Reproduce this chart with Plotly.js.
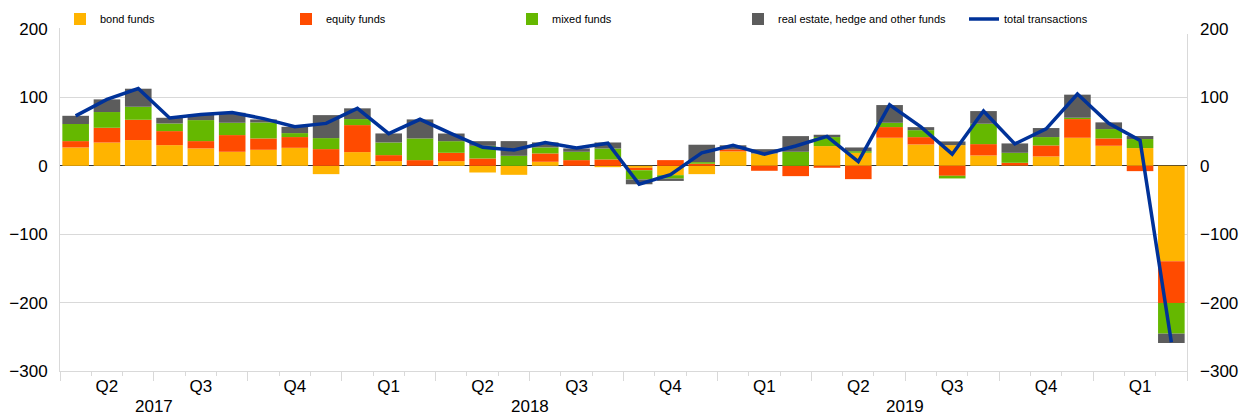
<!DOCTYPE html>
<html>
<head>
<meta charset="utf-8">
<script src="https://cdn.plot.ly/plotly-3.0.1.min.js"></script>
<style>html,body{margin:0;padding:0;background:#fff;}#chart{width:1245px;height:417px;}</style>
</head>
<body>
<div id="chart"></div>
<script>
// Months Apr 2017 .. Mar 2020 (index 0..35)
const months = ["2017-04","2017-05","2017-06","2017-07","2017-08","2017-09","2017-10","2017-11","2017-12",
  "2018-01","2018-02","2018-03","2018-04","2018-05","2018-06","2018-07","2018-08","2018-09","2018-10","2018-11","2018-12",
  "2019-01","2019-02","2019-03","2019-04","2019-05","2019-06","2019-07","2019-08","2019-09","2019-10","2019-11","2019-12",
  "2020-01","2020-02","2020-03"];

const bondFunds = [26.8, 34, 37.6, 30.2, 25.4, 20.5, 23.4, 26.3, -12.2, 20, 6.8, 0, 6.8, -9.8, -13.2, 5.9, 0, -2, -3, -13.7, -12.2, 21, 18, 0, 28.8, 19, 41, 31.2, 30.2, 15.1, 0.5, 13.7, 41, 29.3, 25.9, -139.5];
const equityFunds = [9.3, 21.6, 29.7, 20.5, 10.7, 24.4, 16.6, 15.7, 24.4, 39.5, 8.8, 8.3, 12.2, 10.7, 0, 12.2, 8.3, 9.3, -3.5, 8.3, 3, 3, -7.3, -15.1, -2.9, -19.5, 15.6, 10.7, -14.6, 16.6, 3.9, 16.1, 27.3, 10.7, -7.8, -61];
const mixedFunds = [25, 23, 19, 11.2, 30.7, 18, 23.4, 5.8, 16.1, 8.8, 18.5, 31.7, 17, 18.5, 14.6, 8.8, 12.2, 16, -13.5, -5, 2.4, 0, 0, 20.5, 13.2, 2.4, 6.3, 10.2, -3.9, 29.8, 14.6, 12.2, 2, 13.7, 13.2, -44.9];
const otherFunds = [12, 18.5, 26.4, 8.3, 8, 14.6, 4.4, 9.2, 33.6, 15.7, 13.2, 27.8, 11.2, 6.8, 21.5, 7.3, 4.9, 8.8, -7, -3.4, 25.4, 6, 6.3, 22.9, 3.4, 5.4, 25.9, 4.4, 5.4, 18.5, 13.7, 13.2, 33.7, 9.8, 4.4, -13.7];
const totalTransactions = [73, 97, 113, 70, 75, 78, 69, 57, 62, 84, 47, 68, 47, 27, 23, 34, 26, 33, -27, -13, 19, 30, 17, 29, 43, 6, 89, 57, 17, 80, 32, 54, 105, 62, 37, -258];

const quarterLabels = ["Q2","Q3","Q4","Q1","Q2","Q3","Q4","Q1","Q2","Q3","Q4","Q1"];
const yearLabels = ["2017","2018","2019"];
const yTicks = [200, 100, 0, -100, -200, -300];

const seriesNames = ["bond funds","equity funds","mixed funds","real estate, hedge and other funds"];
const seriesColors = ["#FFB400","#FF4B00","#65B800","#5C5C5C"];
const lineName = "total transactions";
const lineColor = "#003299";

const xIdx = months.map((m, i) => i);
const quarterPos = quarterLabels.map((q, i) => 1 + 3 * i);
const quarterBounds = []; for (let i = 0; i <= 12; i++) quarterBounds.push(-0.5 + 3 * i);
const monthBounds = []; for (let i = 0; i <= 36; i++) monthBounds.push(-0.5 + i);
// year label centred on the calendar year (Jan..Dec)
const yearPos = yearLabels.map((y, i) => 2.5 + 12 * i);

const font = "Arial, 'Liberation Sans', sans-serif";
const seriesData = [bondFunds, equityFunds, mixedFunds, otherFunds];

const traces = seriesData.map((vals, k) => ({
  type: "bar", x: xIdx, y: vals, name: seriesNames[k],
  marker: {color: seriesColors[k], line: {width: 0}},
  hoverinfo: "y+name"
}));
traces.push({
  type: "scatter", mode: "lines", x: xIdx, y: totalTransactions, name: lineName,
  line: {color: lineColor, width: 3.5}
});

const layout = {
  width: 1245, height: 417,
  margin: {l: 60, r: 58, t: 29, b: 46, autoexpand: false},
  paper_bgcolor: "#fff", plot_bgcolor: "#fff",
  barmode: "relative", bargap: 0.15,
  font: {family: font, color: "#000", size: 17},
  showlegend: true,
  legend: {orientation: "h", xref: "paper", x: 0, xanchor: "left", yref: "paper", y: 1.029, yanchor: "middle",
           traceorder: "normal", entrywidth: 181, entrywidthmode: "pixels",
           font: {size: 11, family: font, color: "#000"}, itemwidth: 30},
  xaxis: {
    range: [-0.5, 35.5], tickmode: "array", tickvals: quarterPos, ticktext: quarterLabels,
    ticks: "", showgrid: false, zeroline: false, showline: true, linecolor: "#d9d9d9",
    linewidth: 1, mirror: true, tickfont: {size: 17, family: font, color: "#000"},
    minor: {tickmode: "array", tickvals: monthBounds, ticks: "outside", ticklen: 4, tickcolor: "#d9d9d9", tickwidth: 1, showgrid: false}
  },
  xaxis2: {
    overlaying: "x", matches: "x", range: [-0.5, 35.5], side: "bottom", tickmode: "array",
    tickvals: quarterBounds, ticktext: quarterBounds.map(() => ""), ticks: "outside", ticklen: 9,
    tickcolor: "#d9d9d9", tickwidth: 1, showgrid: false, zeroline: false, showline: false, showticklabels: false
  },
  yaxis: {
    range: [-300, 200], tickmode: "array", tickvals: yTicks, ticks: "", showgrid: true, gridcolor: "#d9d9d9",
    zeroline: true, zerolinecolor: "#333333", zerolinewidth: 1, showline: true, linecolor: "#d9d9d9", mirror: true,
    tickfont: {size: 17, family: font, color: "#000"}, ticklabelstandoff: 8
  },
  yaxis2: {
    overlaying: "y", side: "right", range: [-300, 200], tickmode: "array", tickvals: yTicks, ticks: "",
    showgrid: false, zeroline: false, showline: false, tickfont: {size: 17, family: font, color: "#000"}, ticklabelstandoff: 12
  },
  annotations: yearLabels.map((y, i) => ({
    text: y, x: yearPos[i], xref: "x", y: 0, yref: "paper", yshift: -35, showarrow: false,
    xanchor: "center", yanchor: "middle", font: {size: 17, family: font, color: "#000"}
  }))
};

// invisible helper trace so the secondary axes are drawn
traces.push({type: "scatter", x: [0], y: [0], xaxis: "x2", yaxis: "y2", mode: "markers",
  marker: {opacity: 0}, showlegend: false, hoverinfo: "skip"});

Plotly.newPlot("chart", traces, layout, {staticPlot: true, displayModeBar: false});
</script>
</body>
</html>
